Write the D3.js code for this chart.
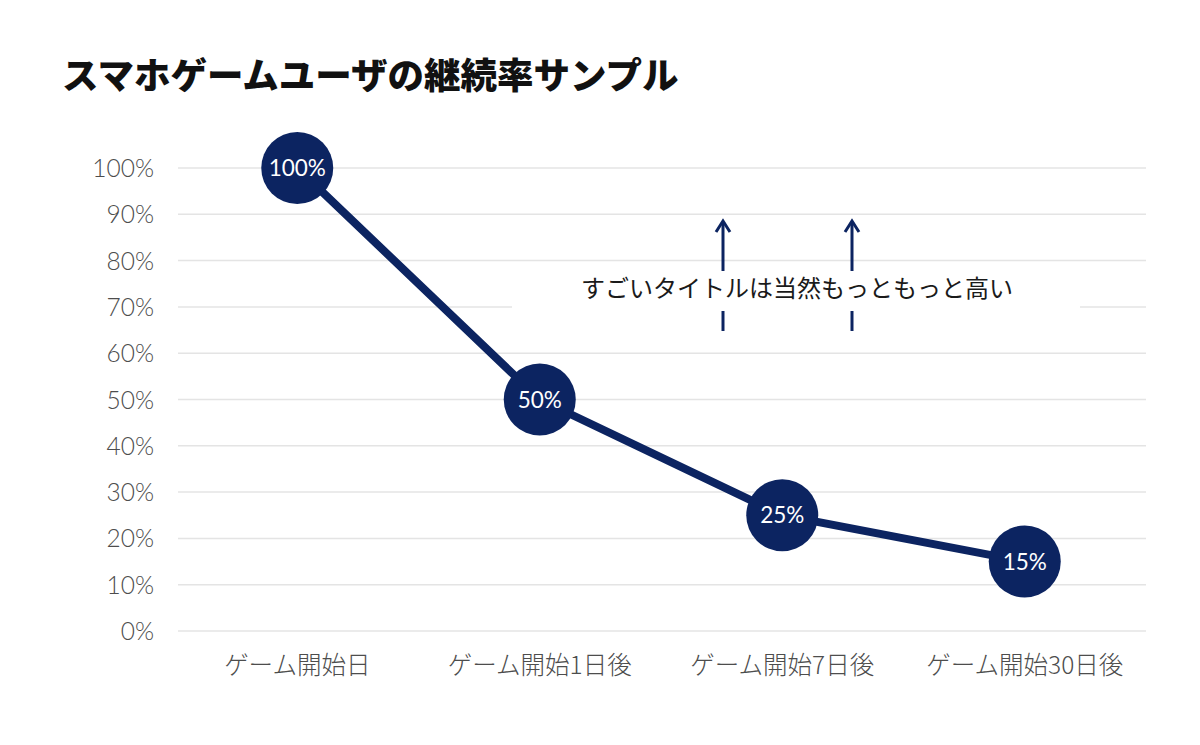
<!DOCTYPE html>
<html><head><meta charset="utf-8">
<script src="https://cdn.jsdelivr.net/npm/d3@7"></script>
<style>html,body{margin:0;padding:0;background:#fff;}</style>
</head><body>
<svg id="chart" width="1200" height="745"></svg>
<script>
const title = "スマホゲームユーザの継続率サンプル";
const categories = ["ゲーム開始日", "ゲーム開始1日後", "ゲーム開始7日後", "ゲーム開始30日後"];
const values = [100, 50, 25, 15];
const yTicks = [0, 10, 20, 30, 40, 50, 60, 70, 80, 90, 100];
const annotation = "すごいタイトルは当然もっともっと高い";

const navy = "#0c2461";
const svg = d3.select("#chart");
const latin = "'Lato','Noto Sans CJK JP',sans-serif";
const jp = "'Noto Sans CJK JP','Noto Sans',sans-serif";

const x = d3.scaleBand().domain(categories).range([176, 1146]);
const y = d3.scaleLinear().domain([0, 100]).range([631, 168]);

svg.append("text").attr("x", 62).attr("y", 89)
  .attr("font-family", jp).attr("font-weight", 900).attr("font-size", 36.5)
  .attr("fill", "#111").text(title);

// gridlines
svg.append("g").selectAll("line").data(yTicks).join("line")
  .attr("x1", 178).attr("x2", 1146)
  .attr("y1", d => y(d)).attr("y2", d => y(d))
  .attr("stroke", "#e4e4e4").attr("stroke-width", 1.5);

// y axis labels
const yAxis = d3.axisLeft(y).tickValues(yTicks).tickFormat(d => d + "%").tickSize(0).tickPadding(0);
const yg = svg.append("g").attr("transform", "translate(154,0)").call(yAxis);
yg.select(".domain").remove();
yg.selectAll("text").attr("font-family", latin).attr("font-weight", 300)
  .attr("font-size", 24.5).attr("fill", "#4d4d4d").attr("dy", "0.35em");

// x axis labels
const xAxis = d3.axisBottom(x).tickSize(0).tickPadding(0);
const xg = svg.append("g").attr("transform", "translate(0,654)").call(xAxis);
xg.select(".domain").remove();
xg.selectAll("text").attr("font-family", jp).attr("font-weight", 300)
  .attr("font-size", 24.5).attr("fill", "#4d4d4d").attr("dy", "0.8em");

// annotation arrows
const ax1 = 723, ax2 = 852;
[ax1, ax2].forEach(ax => {
  svg.append("line").attr("x1", ax).attr("x2", ax).attr("y1", 331).attr("y2", 222)
    .attr("stroke", navy).attr("stroke-width", 3);
  svg.append("path").attr("d", `M${ax-7},${232} L${ax},${221} L${ax+7},${232}`)
    .attr("fill", "none").attr("stroke", navy).attr("stroke-width", 3);
});
svg.append("rect").attr("x", 512).attr("y", 271).attr("width", 568).attr("height", 40).attr("fill", "#fff");
svg.append("text").attr("x", 797).attr("y", 297).attr("text-anchor", "middle")
  .attr("font-family", jp).attr("font-weight", 400).attr("font-size", 24)
  .attr("fill", "#1a1a1a").text(annotation);

// line
const cx = d => x(d) + x.bandwidth() / 2;
const line = d3.line().x((d, i) => cx(categories[i])).y(d => y(d));
svg.append("path").datum(values).attr("d", line)
  .attr("fill", "none").attr("stroke", navy).attr("stroke-width", 8);

// points
svg.append("g").selectAll("circle").data(values).join("circle")
  .attr("cx", (d, i) => cx(categories[i])).attr("cy", d => y(d)).attr("r", 36).attr("fill", navy);
svg.append("g").selectAll("text").data(values).join("text")
  .attr("x", (d, i) => cx(categories[i])).attr("y", d => y(d)).attr("dy", "0.36em")
  .attr("text-anchor", "middle").attr("font-family", latin).attr("font-weight", 400)
  .attr("font-size", 22.5).attr("fill", "#fff").text(d => d + "%");
</script>
</body></html>
